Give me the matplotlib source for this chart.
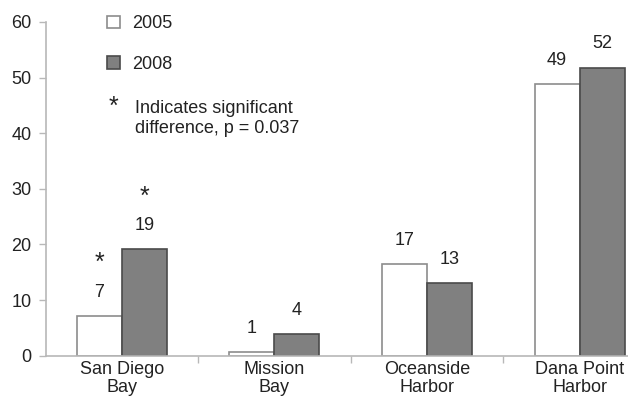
import numpy as np
import matplotlib.pyplot as plt

plt.rcParams['font.family'] = ['Liberation Sans', 'DejaVu Sans']

sites = ["San Diego\nBay", "Mission\nBay", "Oceanside\nHarbor", "Dana Point\nHarbor"]
vals_2005 = [7.2, 0.7, 16.4, 48.9]
vals_2008 = [19.1, 3.9, 13.1, 51.8]
labels_2005 = ["7", "1", "17", "49"]
labels_2008 = ["19", "4", "13", "52"]
signif_2005 = [True, False, False, False]
signif_2008 = [True, False, False, False]

grey = "#b8b8b8"
txt = "#222222"
fig = plt.figure(figsize=(6.28, 4.0), dpi=100)
ax = fig.add_axes([45.5/628, 44.3/400, 610.5/628, 333.7/400])

x = np.arange(len(sites))
w = 0.295
b1 = ax.bar(x - w/2, vals_2005, w, color="white", edgecolor="#8c8c8c", linewidth=1.2)
b2 = ax.bar(x + w/2, vals_2008, w, color="#808080", edgecolor="#4a4a4a", linewidth=1.2)

for xs, vs, ls, sg in [(x - w/2, vals_2005, labels_2005, signif_2005),
                       (x + w/2, vals_2008, labels_2008, signif_2008)]:
    for xi, v, l, s in zip(xs, vs, ls, sg):
        ax.annotate(l, (xi, v), xytext=(0, 17), textcoords="offset points",
                    ha="center", va="center", fontsize=13, color=txt)
        if s:
            ax.annotate("*", (xi, v), xytext=(0, 38), textcoords="offset points",
                        ha="center", va="center", fontsize=18, color=txt)

ax.set_xlim(-0.5, 3.5)
ax.set_ylim(0, 60)
ax.set_yticks(np.arange(0, 61, 10))
ax.set_xticks([0.5, 1.5, 2.5])
ax.set_xticklabels([])
ax.set_xticks(x, minor=True)
ax.set_xticklabels(sites, minor=True, fontsize=13, color=txt, linespacing=1.05)
ax.tick_params(axis="x", which="minor", length=0, pad=4)
ax.tick_params(axis="x", which="major", length=5, color=grey, width=1)
ax.tick_params(axis="y", length=5, color=grey, width=1, labelsize=13,
               labelcolor=txt, pad=5)
for s in ["top", "right"]:
    ax.spines[s].set_visible(False)
for s in ["left", "bottom"]:
    ax.spines[s].set_color(grey)
    ax.spines[s].set_linewidth(1.2)

leg = ax.legend([b1, b2], ["2005", "2008"],
                loc="upper left", bbox_to_anchor=(0.074, 1.069), frameon=False,
                fontsize=13, handlelength=0.7, handleheight=0.7, handletextpad=0.7,
                labelspacing=1.3)
for t in leg.get_texts():
    t.set_color(txt)

ax.text(0.1106, 0.745, "*", transform=ax.transAxes, ha="center", va="center",
        fontsize=18, color=txt)
ax.text(0.1466, 0.711, "Indicates significant\ndifference, p = 0.037",
        transform=ax.transAxes, ha="left", va="center", fontsize=13,
        color=txt, linespacing=1.25)

fig.savefig("out.png", dpi=100)
